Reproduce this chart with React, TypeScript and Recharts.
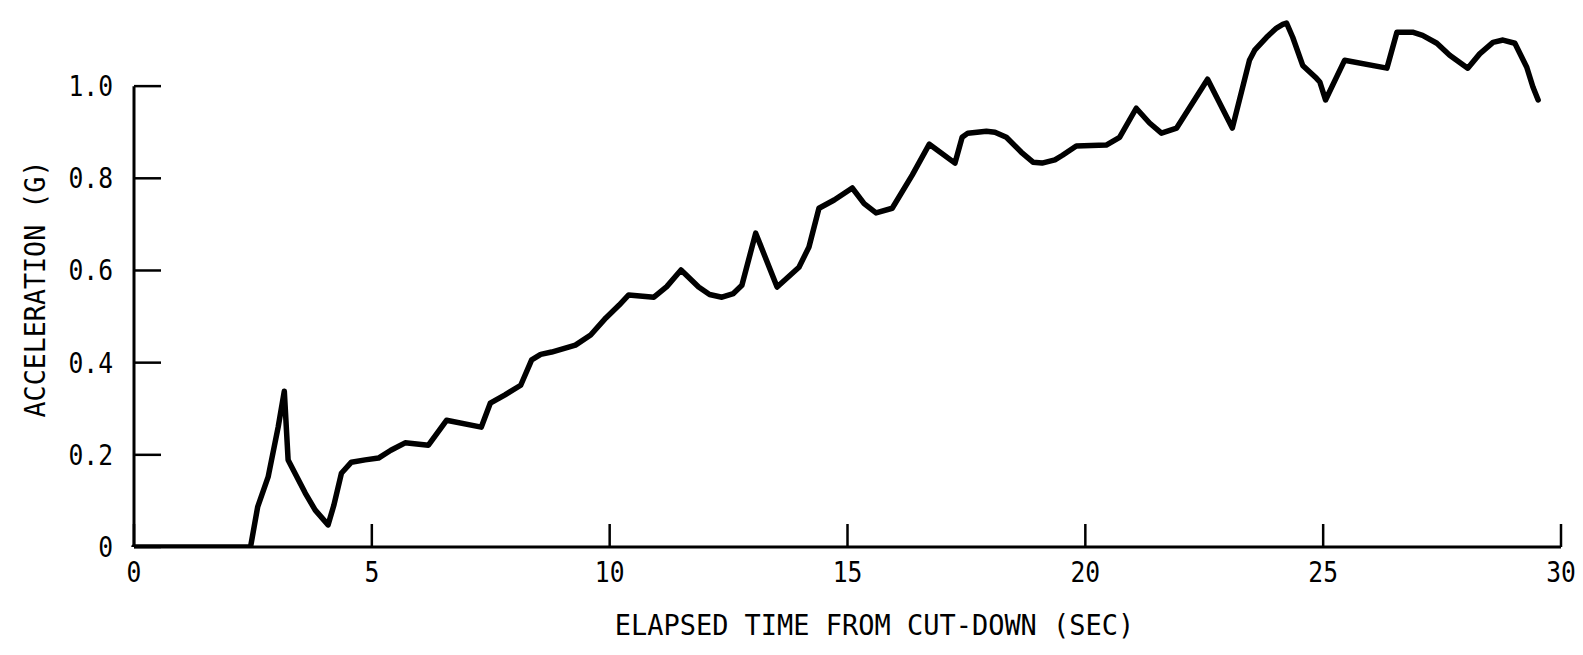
import { Label, Line, LineChart, ReferenceLine, XAxis, YAxis } from "recharts";

// elapsed time (sec) and acceleration (g)
const times = [
  0, 1.0, 2.0, 2.45, 2.6, 2.82, 3.03, 3.16, 3.24, 3.6, 3.81, 4.08, 4.2, 4.36, 4.57, 4.86, 5.14,
  5.4, 5.7, 6.19, 6.57, 7.3, 7.49, 7.8, 8.13, 8.36, 8.55, 8.78, 9.28, 9.6, 9.92, 10.2, 10.4,
  10.93, 11.2, 11.5, 11.87, 12.1, 12.36, 12.6, 12.78, 13.07, 13.52, 13.98, 14.19, 14.4, 14.72,
  15.1, 15.35, 15.6, 15.94, 16.36, 16.72, 17.26, 17.41, 17.53, 17.92, 18.1, 18.34, 18.65, 18.9,
  19.09, 19.36, 19.52, 19.81, 20.44, 20.72, 21.07, 21.35, 21.6, 21.92, 22.57, 23.09, 23.45,
  23.56, 23.81, 24.02, 24.15, 24.23, 24.36, 24.57, 24.86, 24.93, 25.05, 25.45, 26.34, 26.55,
  26.88, 27.09, 27.39, 27.66, 28.04, 28.29, 28.57, 28.78, 29.03, 29.28, 29.41, 29.52
];
const accel = [
  0, 0, 0, 0, 0.087, 0.152, 0.26, 0.338, 0.189, 0.117, 0.08, 0.048, 0.09, 0.16, 0.184, 0.189,
  0.193, 0.21, 0.226, 0.221, 0.275, 0.26, 0.312, 0.33, 0.351, 0.406, 0.418, 0.423, 0.438,
  0.46, 0.497, 0.525, 0.547, 0.542, 0.565, 0.601, 0.564, 0.548, 0.542, 0.55, 0.568, 0.681,
  0.564, 0.607, 0.651, 0.735, 0.753, 0.779, 0.745, 0.725, 0.735, 0.807, 0.874, 0.833, 0.889,
  0.898, 0.902, 0.9, 0.889, 0.857, 0.835, 0.833, 0.84, 0.85, 0.87, 0.872, 0.889, 0.952, 0.92,
  0.898, 0.909, 1.015, 0.909, 1.056, 1.078, 1.106, 1.126, 1.134, 1.137, 1.106, 1.045, 1.017,
  1.009, 0.97, 1.056, 1.039, 1.117, 1.117, 1.11, 1.093, 1.067, 1.039, 1.07, 1.095, 1.1,
  1.093, 1.041, 0.998, 0.97
];

const xTicks = [0, 5, 10, 15, 20, 25, 30];
const yTicks = [0, 0.2, 0.4, 0.6, 0.8, 1.0];
const yTickLabels = ["0", "0.2", "0.4", "0.6", "0.8", "1.0"];

const data = times.map((t, i) => ({ t, g: accel[i] }));

const FONT = "'DejaVu Sans Mono', monospace";

// narrow typewriter-like lettering
function Txt({ x, y, anchor, sx, size, rotate, children }: any) {
  const tr = `translate(${x} ${y})${rotate ? ` rotate(${rotate})` : ""} scale(${sx} 1)`;
  return (
    <text transform={tr} x={0} y={0} textAnchor={anchor} fontFamily={FONT} fontSize={size} fill="#000">
      {children}
    </text>
  );
}

function XTick({ x, y, payload }: any) {
  return (
    <g>
      <line x1={x} x2={x} y1={y} y2={y - 23} stroke="#000" strokeWidth={2.5} />
      <Txt x={x} y={y + 35} anchor="middle" sx={0.85} size={29}>
        {payload.value}
      </Txt>
    </g>
  );
}

function YTick({ x, y, payload }: any) {
  const i = yTicks.indexOf(payload.value);
  return (
    <g>
      <line x1={x} x2={x + 27} y1={y} y2={y} stroke="#000" strokeWidth={2.5} />
      <Txt x={x - 21} y={y + 10} anchor="end" sx={0.85} size={29}>
        {i >= 0 ? yTickLabels[i] : payload.value}
      </Txt>
    </g>
  );
}

export default function App() {
  return (
    <div style={{ position: "absolute", left: 0, top: 0, width: 1583, height: 655, background: "#fff" }}>
      <LineChart width={1583} height={655} data={data} margin={{ top: 17, right: 22, bottom: 0, left: 0 }}>
        <XAxis
          dataKey="t"
          type="number"
          domain={[0, 30]}
          ticks={xTicks}
          tick={<XTick />}
          tickSize={0}
          tickMargin={0}
          height={108}
          axisLine={{ stroke: "#000", strokeWidth: 3 }}
          tickLine={false}
        >
          <Label
            content={({ viewBox }: any) => (
              <Txt x={viewBox.x + viewBox.width / 2 + 27} y={viewBox.y + 88} anchor="middle" sx={0.93} size={29}>
                ELAPSED TIME FROM CUT-DOWN (SEC)
              </Txt>
            )}
          />
        </XAxis>
        <YAxis
          type="number"
          domain={[0, 1.15]}
          ticks={yTicks}
          tick={<YTick />}
          tickSize={0}
          tickMargin={0}
          width={134}
          axisLine={false}
          tickLine={false}
          allowDataOverflow
        >
          <Label
            content={() => (
              <Txt x={45} y={289} rotate={-90} anchor="middle" sx={0.92} size={29}>
                ACCELERATION (G)
              </Txt>
            )}
          />
        </YAxis>
        <ReferenceLine segment={[{ x: 0, y: 0 }, { x: 0, y: 1.0 }]} stroke="#000" strokeWidth={3} />
        <Line
          type="linear"
          dataKey="g"
          stroke="#000"
          strokeWidth={5.5}
          strokeLinejoin="round"
          strokeLinecap="round"
          dot={false}
          isAnimationActive={false}
        />
      </LineChart>
    </div>
  );
}
